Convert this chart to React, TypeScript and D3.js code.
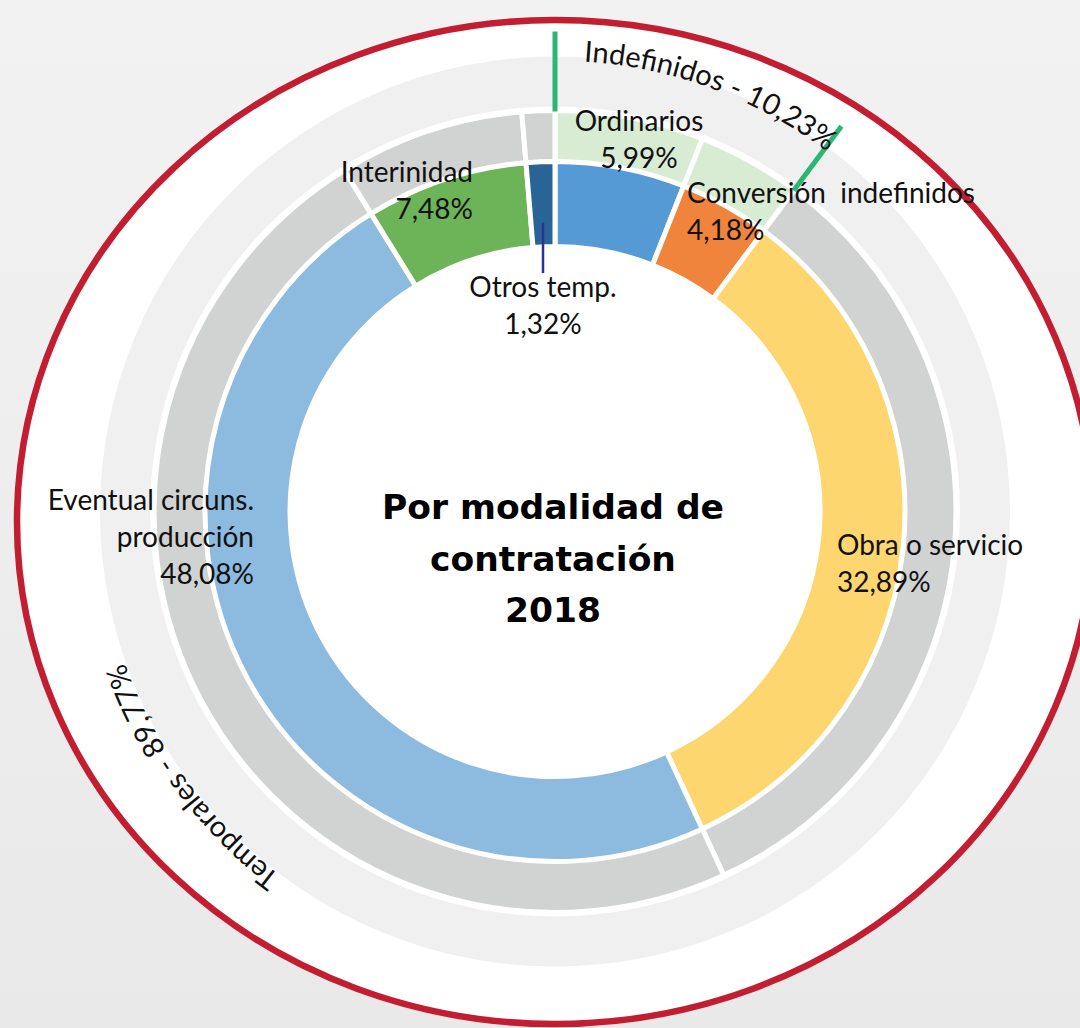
import React from 'react';
import * as d3 from 'd3';

// ---- data ----
const categories = ['Ordinarios', 'Conversión indefinidos', 'Obra o servicio', 'Eventual circuns. producción', 'Interinidad', 'Otros temp.'];
const values = [5.99, 4.18, 32.89, 48.08, 7.48, 1.32];
const valueLabels = ['5,99%', '4,18%', '32,89%', '48,08%', '7,48%', '1,32%'];
const labelNameLines = [['Ordinarios'], ['Conversión  indefinidos'], ['Obra o servicio'], ['Eventual circuns.', 'producción'], ['Interinidad'], ['Otros temp.']];
const groupOf = [0, 0, 1, 1, 1, 1];
const groupNames = ['Indefinidos', 'Temporales'];
const groupShares = ['10,23%', '89,77%'];
const titleLines = ['Por modalidad de', 'contratación', '2018'];

// ---- styles / layout ----
const innerColors = ['#5599d5', '#f1843d', '#fed66f', '#8dbbe0', '#6cb457', '#286495'];
const groupColors = ['#d8ecd4', '#d1d3d2'];
const labelPos = [
  { x: 639, y: 131, anchor: 'middle' },
  { x: 687, y: 203, anchor: 'start' },
  { x: 837, y: 555, anchor: 'start' },
  { x: 254, y: 510, anchor: 'end' },
  { x: 473, y: 182, anchor: 'end' },
  { x: 543, y: 297, anchor: 'middle' },
];
const groupLabelLayout = [
  { r: 451, midDeg: 20.4 },
  { r: 456, midDeg: 233.8 },
];

const W = 1080;
const H = 1028;
const CX = 555;
const CY = 511.5;
const LABEL_FONT = 'Lato, "Open Sans", sans-serif';

export default function App() {
  const pie = d3.pie<number>().sort(null).value((d) => d).startAngle(0).endAngle(2 * Math.PI);
  const arcs = pie(values);
  const innerArc = d3.arc<d3.PieArcDatum<number>>().innerRadius(265).outerRadius(350);
  const midArc = d3.arc<d3.PieArcDatum<number>>().innerRadius(349.5).outerRadius(401);
  const band = d3.arc()({ innerRadius: 405, outerRadius: 455, startAngle: 0, endAngle: 2 * Math.PI } as any) as string;

  // group boundaries (for green marker lines)
  const indefIdx = arcs.map((a, i) => i).filter((i) => groupOf[i] === 0);
  const gStart = arcs[indefIdx[0]].startAngle;
  const gEnd = arcs[indefIdx[indefIdx.length - 1]].endAngle;
  const radial = (ang: number, r: number) => [CX + r * Math.sin(ang), CY - r * Math.cos(ang)];

  // leader for the smallest slice (Otros temp.)
  const otros = arcs[5];
  const otrosMid = (otros.startAngle + otros.endAngle) / 2;
  const [lx, ly] = radial(otrosMid, 289);

  const circlePath = (r: number) =>
    `M ${CX} ${CY - r} A ${r} ${r} 0 1 1 ${CX} ${CY + r} A ${r} ${r} 0 1 1 ${CX} ${CY - r}`;

  return (
    <svg width={W} height={H} viewBox={`0 0 ${W} ${H}`} style={{ position: 'absolute', left: 0, top: 0, display: 'block' }}>
      <defs>
        <linearGradient id="bg" x1="0" y1="0" x2="0" y2="1">
          <stop offset="0" stopColor="#f2f2f2" />
          <stop offset="1" stopColor="#e9e9e9" />
        </linearGradient>
        {groupLabelLayout.map((g, i) => (
          <path key={i} id={`gpath${i}`} d={circlePath(g.r)} fill="none" />
        ))}
      </defs>
      <rect x={0} y={0} width={W} height={H} fill="url(#bg)" />
      <ellipse cx={555} cy={522} rx={538} ry={502} fill="#ffffff" stroke="#c21d31" strokeWidth={6.5} />

      <g transform={`translate(${CX},${CY})`}>
        <path d={band} fill="#f0f0f0" />
        {arcs.map((a, i) => (
          <path key={'m' + i} d={midArc(a) as string} fill={groupColors[groupOf[i]]} stroke="#ffffff" strokeWidth={5} />
        ))}
        {arcs.map((a, i) => (
          <path key={'i' + i} d={innerArc(a) as string} fill={innerColors[i]} stroke="#ffffff" strokeWidth={5} />
        ))}
      </g>

      {[gStart, gEnd].map((ang, i) => {
        const [x1, y1] = radial(ang, 400);
        const [x2, y2] = radial(ang, 480);
        return <line key={'g' + i} x1={x1} y1={y1} x2={x2} y2={y2} stroke="#2bb673" strokeWidth={5} />;
      })}

      <line x1={lx} y1={ly} x2={lx} y2={273} stroke="#2e3192" strokeWidth={2.5} />

      {categories.map((c, i) => {
        const p = labelPos[i];
        const lines = [...labelNameLines[i], valueLabels[i]];
        return (
          <text key={'l' + i} x={p.x} y={p.y} textAnchor={p.anchor as any} fontFamily={LABEL_FONT} fontSize={28} fill="#111" style={{ whiteSpace: 'pre' }}>
            {lines.map((t, j) => (
              <tspan key={j} x={p.x} dy={j === 0 ? 0 : 37}>{t}</tspan>
            ))}
          </text>
        );
      })}

      {groupNames.map((g, i) => {
        const lay = groupLabelLayout[i];
        const off = (lay.midDeg * Math.PI) / 180 * lay.r;
        return (
          <text key={'gl' + i} fontFamily={LABEL_FONT} fontSize={29} fill="#111">
            <textPath href={`#gpath${i}`} startOffset={off} textAnchor="middle">
              {`${g} - ${groupShares[i]}`}
            </textPath>
          </text>
        );
      })}

      <text x={553} y={519} textAnchor="middle" fontFamily='"DejaVu Sans", sans-serif' fontWeight={700} fontSize={34.5} fill="#000">
        {titleLines.map((t, j) => (
          <tspan key={j} x={553} dy={j === 0 ? 0 : 51.5}>{t}</tspan>
        ))}
      </text>
    </svg>
  );
}
